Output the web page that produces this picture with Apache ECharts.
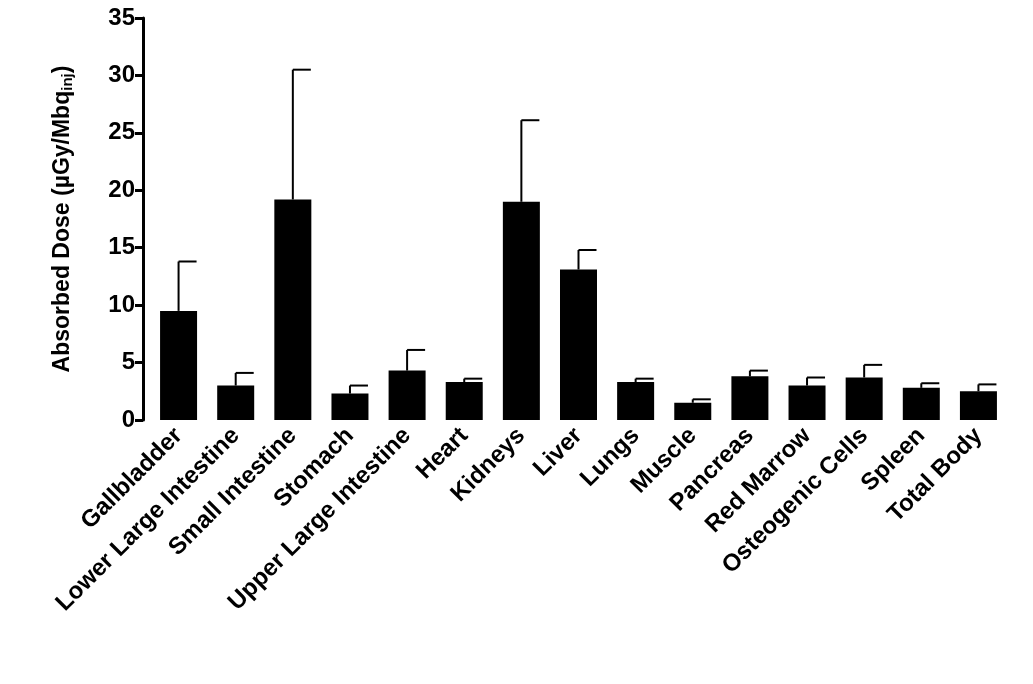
<!DOCTYPE html>
<html>
<head>
<meta charset="utf-8">
<script src="https://cdn.jsdelivr.net/npm/echarts@6/dist/echarts.min.js"></script>
<style>html,body{margin:0;padding:0;background:#fff}#chart{width:1033px;height:684px}</style>
</head>
<body>
<div id="chart"></div>
<script>
var organs = ['Gallbladder', 'Lower Large Intestine', 'Small Intestine', 'Stomach', 'Upper Large Intestine',
  'Heart', 'Kidneys', 'Liver', 'Lungs', 'Muscle', 'Pancreas', 'Red Marrow', 'Osteogenic Cells', 'Spleen', 'Total Body'];
var dose = [9.5, 3.0, 19.2, 2.3, 4.3, 3.3, 19.0, 13.1, 3.3, 1.5, 3.8, 3.0, 3.7, 2.8, 2.5];
var upper = [13.8, 4.1, 30.5, 3.0, 6.1, 3.6, 26.1, 14.8, 3.6, 1.8, 4.3, 3.7, 4.8, 3.2, 3.1];
var yTicks = [0, 5, 10, 15, 20, 25, 30, 35];

var errData = organs.map(function (o, i) { return [i, dose[i], upper[i]]; });

var font = 'Liberation Sans, Arial';
var myChart = echarts.init(document.getElementById('chart'));
var option = {
  animation: false,
  grid: { left: 150, right: 26, top: 18, bottom: 264 },
  xAxis: {
    type: 'category',
    data: organs,
    axisLine: { show: false },
    axisTick: { show: false },
    axisLabel: {
      rotate: 45, interval: 0, margin: 12,
      fontFamily: font, fontWeight: 'bold', fontSize: 24, color: '#000'
    }
  },
  yAxis: {
    type: 'value', min: yTicks[0], max: yTicks[yTicks.length - 1], interval: 5,
    offset: 7,
    splitLine: { show: false },
    axisLine: { show: true, lineStyle: { color: '#000', width: 3 } },
    axisTick: { show: true, length: 8, lineStyle: { color: '#000', width: 3 } },
    axisLabel: { fontFamily: font, fontWeight: 'bold', fontSize: 24, color: '#000', margin: 8 },
    name: '{a|Absorbed Dose (µGy/Mbq}{s|inj}{a|)}',
    nameLocation: 'middle', nameRotate: 90, nameGap: 68,
    nameTextStyle: {
      rich: {
        a: { fontFamily: font, fontWeight: 'bold', fontSize: 23, color: '#000' },
        s: { fontFamily: font, fontWeight: 'bold', fontSize: 15, color: '#000', padding: [9, 0, 0, 0] }
      }
    }
  },
  series: [{
    type: 'bar',
    data: dose,
    barWidth: 37,
    itemStyle: { color: '#000' }
  }, {
    type: 'custom',
    data: errData,
    z: 1,
    renderItem: function (params, api) {
      var p0 = api.coord([api.value(0), api.value(1)]);
      var p1 = api.coord([api.value(0), api.value(2)]);
      var st = { stroke: '#000', lineWidth: 2 };
      return {
        type: 'group',
        children: [
          { type: 'line', shape: { x1: p0[0], y1: p0[1], x2: p1[0], y2: p1[1] }, style: st },
          { type: 'line', shape: { x1: p1[0], y1: p1[1], x2: p1[0] + 18, y2: p1[1] }, style: st }
        ]
      };
    }
  }]
};
myChart.setOption(option, true);
</script>
</body>
</html>
